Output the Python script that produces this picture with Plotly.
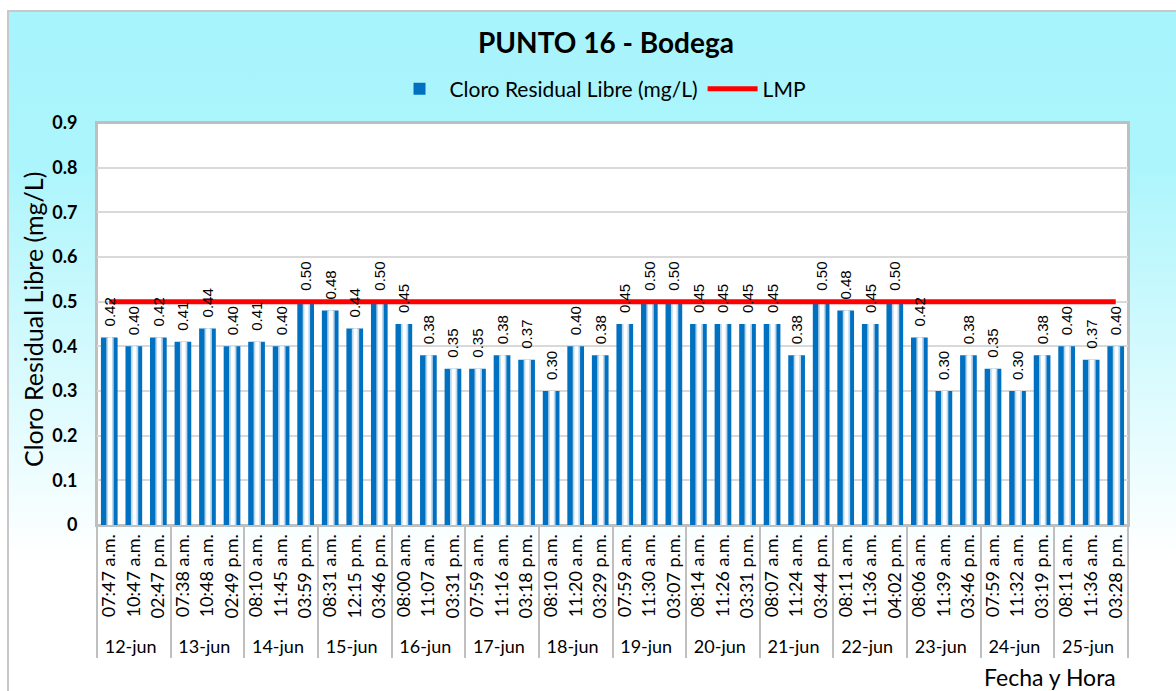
import base64
import plotly.graph_objects as go

# ---- data -------------------------------------------------------------
dias = ["12-jun", "13-jun", "14-jun", "15-jun", "16-jun", "17-jun", "18-jun",
        "19-jun", "20-jun", "21-jun", "22-jun", "23-jun", "24-jun", "25-jun"]

horas = [
    ["07:47 a.m.", "10:47 a.m.", "02:47 p.m."],
    ["07:38 a.m.", "10:48 a.m.", "02:49 p.m."],
    ["08:10 a.m.", "11:45 a.m.", "03:59 p.m."],
    ["08:31 a.m.", "12:15 p.m.", "03:46 p.m."],
    ["08:00 a.m.", "11:07 a.m.", "03:31 p.m."],
    ["07:59 a.m.", "11:16 a.m.", "03:18 p.m."],
    ["08:10 a.m.", "11:20 a.m.", "03:29 p.m."],
    ["07:59 a.m.", "11:30 a.m.", "03:07 p.m."],
    ["08:14 a.m.", "11:26 a.m.", "03:31 p.m."],
    ["08:07 a.m.", "11:24 a.m.", "03:44 p.m."],
    ["08:11 a.m.", "11:36 a.m.", "04:02 p.m."],
    ["08:06 a.m.", "11:39 a.m.", "03:46 p.m."],
    ["07:59 a.m.", "11:32 a.m.", "03:19 p.m."],
    ["08:11 a.m.", "11:36 a.m.", "03:28 p.m."],
]

cloro = [
    0.42, 0.40, 0.42,
    0.41, 0.44, 0.40,
    0.41, 0.40, 0.50,
    0.48, 0.44, 0.50,
    0.45, 0.38, 0.35,
    0.35, 0.38, 0.37,
    0.30, 0.40, 0.38,
    0.45, 0.50, 0.50,
    0.45, 0.45, 0.45,
    0.45, 0.38, 0.50,
    0.48, 0.45, 0.50,
    0.42, 0.30, 0.38,
    0.35, 0.30, 0.38,
    0.40, 0.37, 0.40,
]

lmp = 0.5

# ---- derived category arrays -----------------------------------------
x_dia = [d for d, hs in zip(dias, horas) for _ in hs]
x_hora = [h for hs in horas for h in hs]
x_turno = [k for hs in horas for k in range(len(hs))]
lmp_vals = [lmp] * len(cloro)

# The multicategory axis orders the inner labels by first appearance, and
# some times repeat on different days.  Feeding the bars shift by shift
# (all first readings, then all second, then all third) keeps the
# chronological order inside every day.
orden = sorted(range(len(cloro)), key=lambda i: (x_turno[i], i))
bx = [[x_dia[i] for i in orden], [x_hora[i] for i in orden]]
by = [cloro[i] for i in orden]

# ---- page geometry (pixels) ------------------------------------------
W, H = 1176, 691
L, R, T, B = 97, 1128, 123, 525
Y_MAX = 0.9


def px_x(px):
    return (px - L) / (R - L)


def px_y(py):
    return (B - py) / (B - T)


# vertical cyan -> white background for the chart frame
svg = """<svg xmlns='http://www.w3.org/2000/svg' width='100' height='100' preserveAspectRatio='none'>
<defs><linearGradient id='g' x1='0' y1='0' x2='0' y2='1'>
<stop offset='0' stop-color='#A8F4FC'/>
<stop offset='0.22' stop-color='#ACF5FC'/>
<stop offset='0.78' stop-color='#FFFFFF'/>
<stop offset='1' stop-color='#FFFFFF'/>
</linearGradient></defs>
<rect width='100' height='100' fill='url(#g)'/></svg>"""
bg_src = "data:image/svg+xml;base64," + base64.b64encode(svg.encode()).decode()

CAL = "Lato, Calibri, 'Open Sans', sans-serif"
ARI = "'Liberation Sans', Arial, sans-serif"
BLUE = "#0070C0"

fig = go.Figure()

# main bars (blue body)
fig.add_trace(go.Bar(
    x=bx, y=by, name="Cloro Residual Libre (mg/L)",
    marker=dict(color=BLUE, line=dict(width=0)),
    width=0.68,
))
# light inner highlight of each bar
fig.add_trace(go.Bar(
    x=bx, y=by, showlegend=False, hoverinfo="skip",
    marker=dict(color="#BDD7EE", line=dict(width=0)),
    width=0.30, offset=-0.12,
))
fig.add_trace(go.Bar(
    x=bx, y=by, showlegend=False, hoverinfo="skip",
    marker=dict(color="#FFFFFF", line=dict(width=0)),
    width=0.16, offset=-0.05,
))

# limit line
fig.add_trace(go.Scatter(
    x=[x_dia, x_hora], y=lmp_vals, name="LMP", mode="lines",
    line=dict(color="#FF0000", width=5),
))

# value labels on an overlaid twin subplot so they sit above the limit line;
# a transparent spacer on each bar lifts the label a little
gap = 8 * Y_MAX / (B - T)
fig.add_trace(go.Bar(
    x=bx, y=[gap] * len(by), base=by, customdata=by,
    xaxis="x2", yaxis="y2",
    showlegend=False, hoverinfo="skip",
    marker=dict(color="rgba(0,0,0,0)", line=dict(width=0)),
    width=0.68,
    texttemplate="%{customdata:.2f}", textposition="outside", textangle=-90,
    constraintext="none",
    textfont=dict(family=ARI, size=15, color="#000000"),
    cliponaxis=False,
))

fig.update_layout(
    width=W, height=H,
    margin=dict(l=L, r=W - R, t=T, b=H - B, autoexpand=False),
    paper_bgcolor="#FFFFFF", plot_bgcolor="rgba(0,0,0,0)",
    barmode="overlay", bargap=0.3,
    showlegend=True,
    legend=dict(orientation="h", x=px_x(600), xanchor="center",
                y=px_y(89), yanchor="middle",
                font=dict(family=CAL, size=21, color="#000000"),
                bgcolor="rgba(0,0,0,0)", itemwidth=50, traceorder="normal"),
    xaxis2=dict(type="multicategory", overlaying="x", matches="x",
                visible=False, showdividers=False),
    yaxis2=dict(overlaying="y", matches="y", visible=False),
    images=[dict(source=bg_src, xref="paper", yref="paper",
                 x=px_x(8), y=px_y(11), sizex=(W + 20 - 8) / (R - L),
                 sizey=(H + 20 - 11) / (B - T), xanchor="left", yanchor="top",
                 sizing="stretch", layer="below")],
    shapes=[
        # chart frame
        dict(type="rect", xref="paper", yref="paper",
             x0=px_x(8), x1=px_x(W + 20), y0=px_y(11), y1=px_y(H + 20),
             line=dict(color="#C8C8C8", width=2), fillcolor="rgba(0,0,0,0)",
             layer="below"),
        # white plot area
        dict(type="rect", xref="paper", yref="paper", x0=0, x1=1, y0=0, y1=1,
             line=dict(color="#BFBFBF", width=2), fillcolor="#FFFFFF",
             layer="below"),
    ],
    annotations=[
        dict(text="<b>PUNTO 16 - Bodega</b>", xref="paper", yref="paper",
             x=px_x(606), y=px_y(42), xanchor="center", yanchor="middle",
             showarrow=False, font=dict(family=CAL, size=28, color="#000000")),
        dict(text="Cloro Residual Libre (mg/L)", xref="paper", yref="paper",
             x=px_x(33), y=px_y(320), xanchor="center", yanchor="middle",
             textangle=-90, showarrow=False,
             font=dict(family=CAL, size=25, color="#000000")),
        dict(text="Fecha y Hora", xref="paper", yref="paper",
             x=px_x(1118), y=px_y(677), xanchor="right", yanchor="middle",
             showarrow=False, font=dict(family=CAL, size=23, color="#000000")),
    ],
)

fig.update_layout(
    yaxis=dict(
        range=[0, Y_MAX], dtick=0.1, tick0=0,
        showgrid=True, gridcolor="#D9D9D9", gridwidth=1.5,
        zeroline=False, showline=True, linecolor="#BFBFBF", linewidth=2,
        mirror=True, ticks="", ticklabelstandoff=14,
        tickfont=dict(family=CAL, size=18, color="#000000", weight="bold"),
    ),
    xaxis=dict(
        type="multicategory", tickangle=-90,
        showline=True, linecolor="#BFBFBF", linewidth=2, mirror=True,
        showgrid=False, ticks="",
        showdividers=True, dividercolor="#BFBFBF", dividerwidth=2,
        tickfont=dict(family=CAL, size=18, color="#000000"),
    ),
)

fig.write_html("out.html")
